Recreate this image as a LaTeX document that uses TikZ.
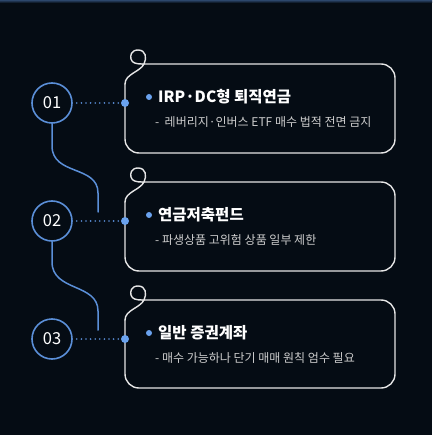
\documentclass[tikz,border=0pt]{standalone}
\usepackage{fontspec}
\setmainfont{Noto Sans CJK KR}
\usepackage{tikz}

\definecolor{bgnavy}{HTML}{050C14}
\definecolor{stepblue}{HTML}{5B8FD8}
\definecolor{dotblue}{HTML}{6AA2EE}
\definecolor{cardline}{HTML}{E6E6E6}
\definecolor{subgrey}{HTML}{CDCDCD}

\tikzset{
  numring/.style={circle, draw=stepblue, line width=1.6pt, minimum size=40pt, inner sep=0pt, text=white, font=\fontsize{16.5}{17}\selectfont},
  pindot/.style={circle, fill=dotblue, minimum size=8pt, inner sep=0pt},
  bulletdot/.style={circle, fill=dotblue, minimum size=6pt, inner sep=0pt},
  cardedge/.style={draw=cardline, line width=1.4pt, line cap=round, line join=round},
  leader/.style={stepblue, line width=1.8pt, line cap=round, dash pattern=on 0pt off 4.6pt},
  wire/.style={stepblue, line width=1.5pt, line cap=round},
  headtext/.style={anchor=west, inner sep=0pt, text=white, font=\bfseries\fontsize{15.5}{16}\selectfont},
  subtext/.style={anchor=west, inner sep=0pt, text=subgrey, font=\fontsize{12}{13}\selectfont}
}

\begin{document}
\begin{tikzpicture}[x=1pt,y=-1pt]

% background
\useasboundingbox (0,0) rectangle (432,435);
\fill[bgnavy] (0,0) rectangle (432,435);
\shade[top color=stepblue!45!bgnavy, bottom color=bgnavy] (0,0) rectangle (432,3);

% Card 1
\draw[cardedge, rounded corners=14pt] (142,64) -- (395,64) -- (395,153) -- (125,153) -- (125,84);
\draw[cardedge] (125,84) .. controls (125,74) and (140,72) .. (144,64) .. controls (147,58) and (146,50) .. (138,50) .. controls (131,50) and (130,56) .. (131,59) .. controls (132,63) and (136,64) .. (142,64);
% Card 2
\draw[cardedge, rounded corners=14pt] (142,182) -- (395,182) -- (395,271) -- (125,271) -- (125,202);
\draw[cardedge] (125,202) .. controls (125,192) and (140,190) .. (144,182) .. controls (147,176) and (146,168) .. (138,168) .. controls (131,168) and (130,174) .. (131,177) .. controls (132,181) and (136,182) .. (142,182);
% Card 3
\draw[cardedge, rounded corners=14pt] (142,300) -- (395,300) -- (395,388) -- (125,388) -- (125,320);
\draw[cardedge] (125,320) .. controls (125,310) and (140,308) .. (144,300) .. controls (147,294) and (146,286) .. (138,286) .. controls (131,286) and (130,292) .. (131,295) .. controls (132,299) and (136,300) .. (142,300);

% Step rings
\node[numring] (ring1) at (52,103) {01};
\node[numring] (ring2) at (52,221) {02};
\node[numring] (ring3) at (52,339) {03};

% Pins on card edges
\node[pindot] (pin1) at (125,103) {};
\node[pindot] (pin2) at (125,221) {};
\node[pindot] (pin3) at (125,339) {};

% Dotted leaders
\draw[leader] (ring1.east) ++(4,0) -- (pin1.west);
\draw[leader] (ring2.east) ++(4,0) -- (pin2.west);
\draw[leader] (ring3.east) ++(4,0) -- (pin3.west);

% Wires between rings
\coordinate (wire1end) at (98,212);
\coordinate (wire2end) at (98,330);
\draw[wire] (ring1.south) -- ++(0,22) .. controls ++(0,30) and (98,165) .. (98,193) -- (wire1end);
\draw[wire] (ring2.south) -- ++(0,20) .. controls ++(0,30) and (98,283) .. (98,311) -- (wire2end);

% Titles
\node[bulletdot] (bul1) at (149,97) {};
\node[headtext] (head1) at (158,97) {IRP·DC형 퇴직연금};
\node[subtext] (sub1) at (155,122) {-\ \ 레버리지·인버스 ETF 매수 법적 전면 금지};

\node[bulletdot] (bul2) at (149,215) {};
\node[headtext] (head2) at (158,215) {연금저축펀드};
\node[subtext] (sub2) at (155,240) {- 파생상품 고위험 상품 일부 제한};

\node[bulletdot] (bul3) at (149,333) {};
\node[headtext] (head3) at (158,333) {일반 증권계좌};
\node[subtext] (sub3) at (155,358) {- 매수 가능하나 단기 매매 원칙 엄수 필요};

\end{tikzpicture}
\end{document}
